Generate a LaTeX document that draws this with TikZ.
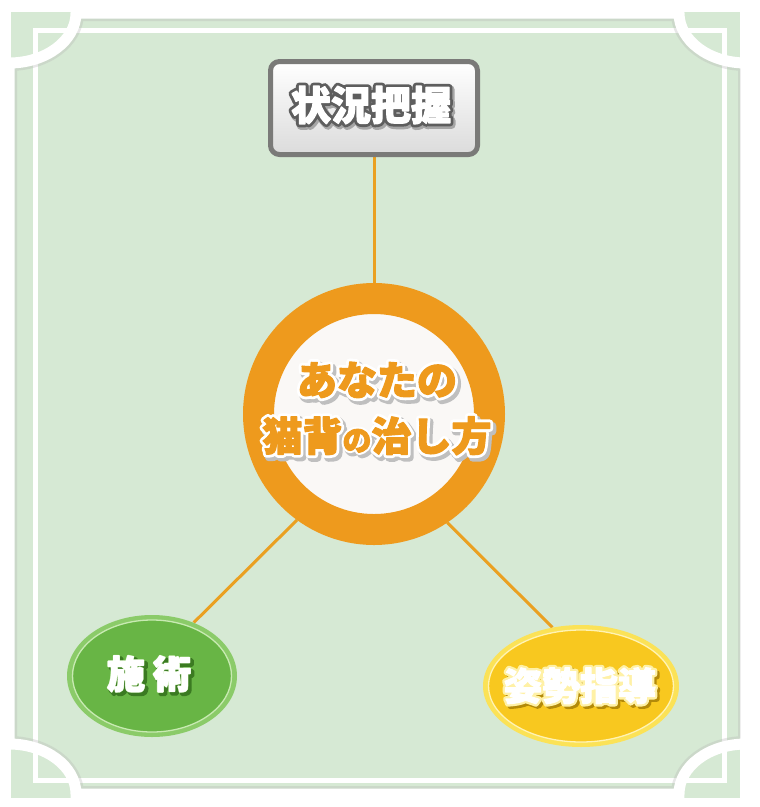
\documentclass[tikz,border=0pt]{standalone}
\usepackage{fontspec}
\newfontfamily\cjk{Noto Sans CJK JP}
\usetikzlibrary{shapes.geometric}
\definecolor{bggreen}{HTML}{D6E9D4}
\definecolor{lineorange}{HTML}{EAA021}
\definecolor{ringorange}{HTML}{EE9A1D}
\definecolor{ringfill}{HTML}{FAF8F6}
\definecolor{boxgray}{HTML}{7A7A78}
\definecolor{outlinegray}{HTML}{5E5E5E}
\definecolor{greenrim}{HTML}{8BCB69}
\definecolor{greenfill}{HTML}{68B545}
\definecolor{greenline}{HTML}{C8EAB2}
\definecolor{greenshadow}{HTML}{3B7A22}
\definecolor{yellowrim}{HTML}{FBE257}
\definecolor{yellowfill}{HTML}{F8C81F}
\definecolor{yellowline}{HTML}{FFF3B4}
\definecolor{yellowshadow}{HTML}{B38A0A}
\definecolor{yellowglow}{HTML}{FFF1A6}
\pgfdeclarelayer{frame}
\pgfdeclarelayer{links}
\pgfsetlayers{frame,links,main}
% #1 shadow colour, #2 dx, #3 dy, #4 shadow stroke, #5 outline colour, #6 outline stroke, #7 fill colour, #8 fill stroke, #9 text
\newcommand\outlined[9]{\leavevmode
  \rlap{\kern#2pt\raise#3pt\hbox{\addfontfeature{FakeBold=#4}\color{#1}#9}}%
  \rlap{\hbox{\addfontfeature{FakeBold=#6}\color{#5}#9}}%
  {\addfontfeature{FakeBold=#8}\color{#7}#9}}
\newcommand\grayout[1]{\outlined{black!35}{1.5}{-2}{20}{outlinegray}{17}{white}{3}{#1}}
\newcommand\orangeout[1]{\outlined{black!25}{2.5}{-3}{20}{white}{17}{ringorange}{3}{#1}}
\newcommand\greenout[1]{\outlined{greenshadow}{2.5}{-2.5}{10}{greenline}{5}{white}{3}{#1}}
\newcommand\yellowout[1]{\outlined{yellowshadow}{2.5}{-2.5}{14}{yellowglow}{15}{white}{3}{#1}}
\tikzset{
  label font/.style={font=\cjk\bfseries\fontsize{#1}{#1}\selectfont, line join=round},
  link/.style={draw=lineorange, line width=3pt},
  topbox/.style={draw=boxgray, line width=5pt, rounded corners=9pt,
    top color=white, middle color=white, bottom color=black!14,
    minimum width=207pt, minimum height=93pt},
  hub/.style={circle, draw=ringorange, line width=31pt, fill=ringfill,
    minimum size=231pt, inner sep=0pt},
  blob/.style={ellipse, inner sep=0pt}
}
\begin{document}
\begin{tikzpicture}[x=1pt, y=-1pt, line join=round]
\useasboundingbox (0,0) rectangle (760,807);
\begin{pgfonlayer}{frame}
  \fill[white] (0,0) rectangle (760,807);
  \fill[bggreen] (11,12) rectangle (740,798);
  \draw[white, line width=5pt, line join=miter] (35,30.5) rectangle (724.5,780.5);
  \def\plaque{(76,13) -- (679,13) .. controls (679,40.6) and (709,63) .. (746,63)
    -- (746,744) .. controls (709,744) and (679,766.4) .. (679,794)
    -- (76,794) .. controls (76,766.4) and (46,744) .. (9,744)
    -- (9,63) .. controls (46,63) and (76,40.6) .. (76,13) -- cycle}
  \begin{scope}
    \clip \plaque;
    \draw[black!30, line width=16pt, opacity=0.3] \plaque;
  \end{scope}
  \draw[white, line width=11pt] \plaque;
\end{pgfonlayer}

\node[topbox] (sit) at (374,108) {};
\node[label font=40] (sittext) at (371,106) {\grayout{状況把握}};

\node[hub] (ring) at (374,414) {};
\node[label font=40, align=center, font=\cjk\bfseries\fontsize{40}{56}\selectfont]
  (ringtext) at (377,410)
  {\orangeout{あなたの}\\\orangeout{猫背{\fontsize{29}{29}\selectfont の}治し方}};

\node[blob, fill=greenrim, minimum width=170pt, minimum height=122pt] (left) at (152,676) {};
\node[blob, fill=greenfill, draw=greenline, line width=1.3pt,
  minimum width=159pt, minimum height=112pt] (leftin) at (left.center) {};
\node[label font=38] (lefttext) at (149,675) {\greenout{施\hspace{8pt}術}};

\node[blob, fill=yellowrim, minimum width=196pt, minimum height=122pt] (right) at (581,686) {};
\node[blob, fill=yellowfill, draw=yellowline, line width=1.3pt,
  minimum width=185pt, minimum height=112pt] (rightin) at (right.center) {};
\node[label font=38] (righttext) at (580,687) {\yellowout{姿勢指導}};

\begin{pgfonlayer}{links}
  \draw[link] (sit.south) -- (ring.north);
  \draw[link] (ring.234) -- (left.52);
  \draw[link] (ring.304.4) -- (right.116);
\end{pgfonlayer}
\end{tikzpicture}
\end{document}
